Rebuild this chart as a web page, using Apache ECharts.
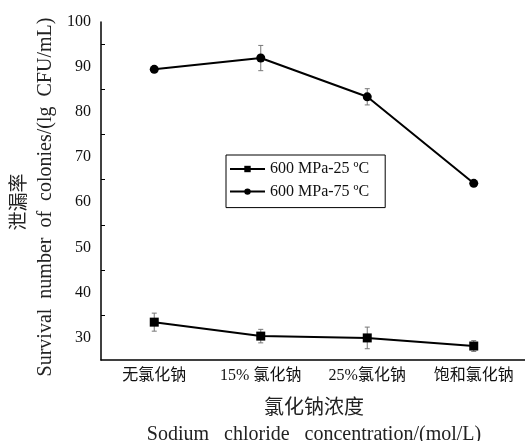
<!DOCTYPE html>
<html><head><meta charset="utf-8">
<script src="https://cdn.jsdelivr.net/npm/echarts@6/dist/echarts.min.js"></script>
<style>html,body{margin:0;padding:0;background:#fff}#c{width:525px;height:441px}</style>
</head><body><div id="c"></div>
<script>
const categories = ['无氯化钠', '15% 氯化钠', '25%氯化钠', '饱和氯化钠'];
const seriesNames = ['600 MPa-25 ºC', '600 MPa-75 ºC'];
const values25 = [33.4, 30.3, 29.9, 28.1];
const errors25 = [2.0, 1.5, 2.4, 1.2];
const values75 = [89.5, 92.0, 83.4, 64.2];
const errors75 = [0.4, 2.8, 1.8, 0.4];
const yMajorTicks = [30, 40, 50, 60, 70, 80, 90, 100];
const yMinorTicks = [35, 45, 55, 65, 75, 85, 95];

const FONT = '"Liberation Serif", "Noto Sans CJK SC", serif';
const chart = echarts.init(document.getElementById('c'), null, {renderer: 'canvas'});

function errData(vals, errs) {
  return vals.map((v, i) => [i, v - errs[i], v + errs[i]]);
}
function renderErr(params, api) {
  const x = api.value(0);
  const lo = api.coord([x, api.value(1)]);
  const hi = api.coord([x, api.value(2)]);
  const w = 2.5;
  const st = {stroke: '#777', lineWidth: 1};
  return {type: 'group', children: [
    {type: 'line', shape: {x1: lo[0], y1: lo[1], x2: hi[0], y2: hi[1]}, style: st},
    {type: 'line', shape: {x1: lo[0]-w, y1: lo[1], x2: lo[0]+w, y2: lo[1]}, style: st},
    {type: 'line', shape: {x1: hi[0]-w, y1: hi[1], x2: hi[0]+w, y2: hi[1]}, style: st}
  ]};
}

const option = {
  backgroundColor: '#fff',
  animation: false,
  grid: {left: 101, top: 22, bottom: 81, right: -2, containLabel: false, outerBoundsMode: 'none'},
  legend: {
    left: 226, top: 155, orient: 'vertical',
    itemWidth: 35, itemHeight: 8, itemGap: 6.6,
    padding: [6, 16, 8, 3],
    borderColor: '#000', borderWidth: 1,
    textStyle: {fontFamily: FONT, fontSize: 16, color: '#111', lineHeight: 14},
    data: seriesNames
  },
  xAxis: [{
    type: 'category', data: categories, boundaryGap: true,
    axisLine: {lineStyle: {color: '#000', width: 1.5}},
    axisTick: {alignWithLabel: true, inside: false, length: 5, lineStyle: {color: '#000'}},
    axisLabel: {fontFamily: FONT, fontSize: 16, color: '#111', margin: 8},
    splitLine: {show: false},
    name: '{a|氯化钠浓度}\n{b|Sodium   chloride   concentration/(mol/L)}',
    nameLocation: 'middle', nameGap: 36,
    nameTextStyle: {
      rich: {
        a: {fontFamily: FONT, fontSize: 20, color: '#222', lineHeight: 26, align: 'center'},
        b: {fontFamily: FONT, fontSize: 20, color: '#222', lineHeight: 26, align: 'center'}
      }
    }
  }, {
    type: 'category', data: categories, boundaryGap: true, position: 'bottom',
    axisLine: {show: false},
    axisTick: {inside: true, length: 3, lineStyle: {color: '#000'}},
    axisLabel: {show: false}
  }],
  yAxis: [{
    type: 'value', min: 25, max: 100, interval: 5,
    axisLine: {show: true, lineStyle: {color: '#000', width: 1.5}},
    axisTick: {inside: true, length: 7, customValues: yMajorTicks, lineStyle: {color: '#000'}},
    axisLabel: {fontFamily: FONT, fontSize: 16, color: '#111', margin: 10, customValues: yMajorTicks},
    splitLine: {show: false},
    name: '{a|泄漏率}\n{b|Survival  number  of  colonies/(lg  CFU/mL)}',
    nameLocation: 'middle', nameGap: 42, nameRotate: 90,
    nameTextStyle: {
      padding: [0, 12, 0, 0],
      rich: {
        a: {fontFamily: FONT, fontSize: 19, color: '#222', lineHeight: 26, align: 'center', padding: [0, 10, 0, 0]},
        b: {fontFamily: FONT, fontSize: 20, color: '#222', lineHeight: 26, align: 'center'}
      }
    }
  }, {
    type: 'value', min: 25, max: 100, interval: 5, position: 'left', offset: 0,
    axisLine: {show: false},
    axisTick: {show: true, inside: true, length: 4, customValues: yMinorTicks, lineStyle: {color: '#000'}},
    axisLabel: {show: false},
    splitLine: {show: false}
  }],
  series: [
    {type: 'custom', xAxisIndex: 0, yAxisIndex: 0, renderItem: renderErr, data: errData(values25, errors25), z: 1, silent: true},
    {type: 'custom', xAxisIndex: 0, yAxisIndex: 0, renderItem: renderErr, data: errData(values75, errors75), z: 1, silent: true},
    {name: seriesNames[0], type: 'line', data: values25, symbol: 'rect', symbolSize: 9,
     itemStyle: {color: '#000'}, lineStyle: {color: '#000', width: 2}, z: 3},
    {name: seriesNames[1], type: 'line', data: values75, symbol: 'circle', symbolSize: 9,
     itemStyle: {color: '#000'}, lineStyle: {color: '#000', width: 2}, z: 3}
  ]
};
chart.setOption(option);
</script></body></html>
